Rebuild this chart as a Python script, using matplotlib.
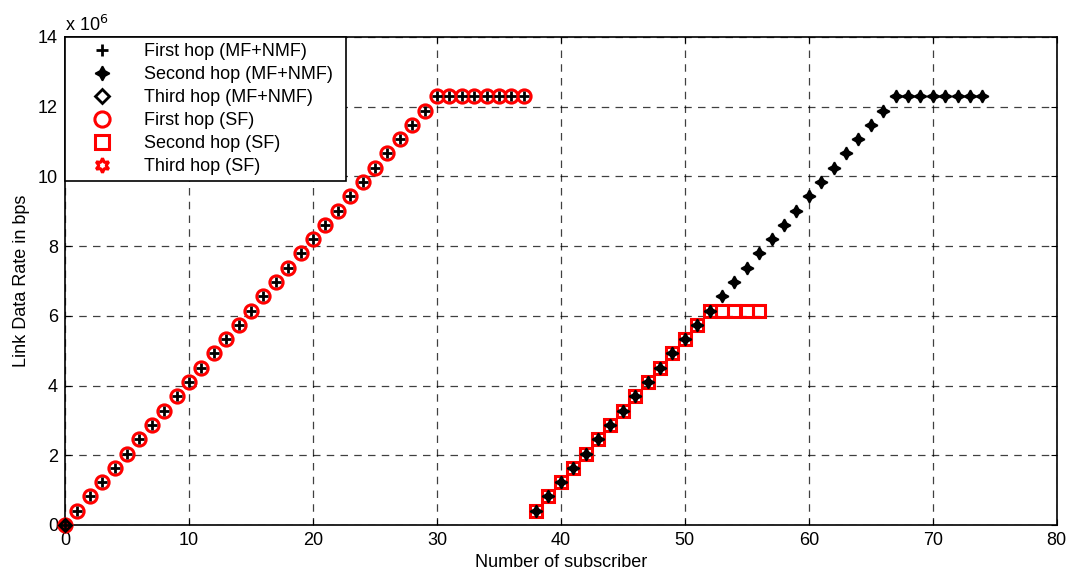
import numpy as np
import matplotlib.pyplot as plt

plt.rcParams['font.family'] = ['Liberation Sans', 'DejaVu Sans']

# link rate per subscriber (bps), flat once the link saturates
rate_step = 0.41e6

# first hop: subscribers 0..37
hop1_x = list(range(0, 38))
hop1_y = [min(x, 30) * rate_step for x in hop1_x]

# second hop (MF+NMF): subscribers 38..74
hop2_x = list(range(38, 75))
hop2_y = [min(x - 37, 30) * rate_step for x in hop2_x]

# second hop (SF): subscribers 38..56, saturates at half rate
hop2sf_x = list(range(38, 57))
hop2sf_y = [min(x - 37, 15) * rate_step for x in hop2sf_x]

# third hop: nothing carried
hop3_x = [0]
hop3_y = [0]

fs = 13

fig = plt.figure(figsize=(10.71, 5.75), dpi=100)
ax = fig.add_axes([0.0607, 0.087, 0.926, 0.8487])

ax.plot(hop1_x, hop1_y, linestyle='none', marker='+', color='k', ms=7.5, mew=2,
        label='First hop (MF+NMF)', zorder=5, clip_on=False)
ax.plot(hop2_x, hop2_y, linestyle='none', marker=(4, 1, 0), color='k', ms=9, mew=1.2,
        label='Second hop (MF+NMF)', zorder=5, clip_on=False)
ax.plot(hop3_x, hop3_y, linestyle='none', marker='D', mfc='none', mec='k', ms=6.5, mew=2,
        label='Third hop (MF+NMF)', zorder=4, clip_on=False)
ax.plot(hop1_x, hop1_y, linestyle='none', marker='o', mfc='none', mec='red', ms=9.5, mew=2.2,
        label='First hop (SF)', zorder=3, clip_on=False)
ax.plot(hop2sf_x, hop2sf_y, linestyle='none', marker='s', mfc='none', mec='red', ms=9, mew=2.2,
        label='Second hop (SF)', zorder=3, clip_on=False)
ax.plot(hop3_x, hop3_y, linestyle='none', marker=(6, 1, 0), mfc='none', mec='red', ms=9, mew=2.2,
        label='Third hop (SF)', zorder=3, clip_on=False)

ax.set_xlim(0, 80)
ax.set_ylim(0, 14e6)
ax.set_xticks(np.arange(0, 81, 10))
ax.set_yticks(np.arange(0, 15e6, 2e6))
ax.set_yticklabels([str(int(v)) for v in np.arange(0, 15, 2)])
ax.tick_params(direction='in', length=4, labelsize=fs, colors='k', top=True, right=True, pad=5)
ax.grid(True, color='k', linestyle=(0, (6, 5)), linewidth=0.9, alpha=0.75)
for s in ax.spines.values():
    s.set_linewidth(1.2)

ax.text(0.0, 1.005, r'x 10$^6$', transform=ax.transAxes, fontsize=fs, ha='left', va='bottom')
ax.set_xlabel('Number of subscriber', fontsize=fs, labelpad=4)
ax.set_ylabel('Link Data Rate in bps', fontsize=fs, labelpad=6)

leg = ax.legend(loc='upper left', bbox_to_anchor=(0, 0.6885, 0.283, 0.3115), mode='expand',
                borderaxespad=0, fontsize=fs, fancybox=False, framealpha=1, edgecolor='k',
                labelspacing=0.33, handletextpad=0.65, borderpad=0.35, handlelength=3.4,
                numpoints=1, markerscale=1.15)
leg.get_frame().set_linewidth(1.2)

fig.savefig('out.png', dpi=100)
